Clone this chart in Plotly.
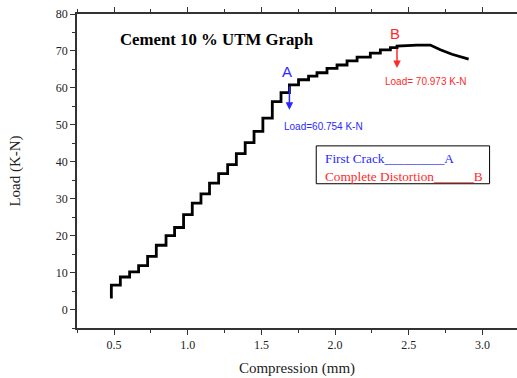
import plotly.graph_objects as go

# Staircase (loading) part: riser x positions and load level after each riser
step_x = [0.482, 0.482, 0.543, 0.606, 0.667, 0.728, 0.787, 0.853, 0.911, 0.972,
          1.031, 1.090, 1.148, 1.210, 1.271, 1.330, 1.390, 1.450, 1.510, 1.574,
          1.633, 1.690, 1.752, 1.820, 1.877, 1.945, 2.013, 2.081, 2.149, 2.239,
          2.307, 2.375, 2.420]
step_load = [3.0, 6.6, 8.8, 10.2, 11.9, 14.4, 17.4, 20.0, 22.2, 25.7,
             28.8, 31.3, 34.2, 36.8, 39.2, 42.2, 45.2, 48.2, 51.8, 56.3,
             58.7, 60.8, 62.2, 63.2, 64.1, 65.3, 66.2, 67.3, 68.3, 69.4,
             70.3, 70.9, 71.3]
# Smooth tail after the peak
tail_x = [2.556, 2.646, 2.714, 2.793, 2.906]
tail_load = [71.6, 71.6, 70.3, 69.1, 67.8]

point_A = (1.690, 60.754)
point_B = (2.420, 70.973)

# Build staircase path (horizontal then vertical)
xs, ys = [step_x[0]], [step_load[0]]
for i in range(1, len(step_x)):
    xs.append(step_x[i]); ys.append(step_load[i - 1])
    xs.append(step_x[i]); ys.append(step_load[i])
xs += tail_x
ys += tail_load

serif = "Liberation Serif, Times New Roman, serif"
sans = "Liberation Sans, Arial, sans-serif"
blue = "#2a2aff"
red = "#ff2a2a"

fig = go.Figure()
fig.add_trace(go.Scatter(x=xs, y=ys, mode="lines",
                         line=dict(color="black", width=2.8), showlegend=False,
                         hoverinfo="skip"))

ann = []
ann.append(dict(x=0.527, y=73.0, xref="x", yref="y", text="<b>Cement 10 % UTM Graph</b>",
                showarrow=False, xanchor="left", yanchor="middle",
                font=dict(family=serif, size=16.8, color="black")))
ann.append(dict(x=1.674, y=64.4, xref="x", yref="y", text="A", showarrow=False,
                font=dict(family=sans, size=15, color=blue)))
ann.append(dict(x=2.408, y=74.8, xref="x", yref="y", text="B", showarrow=False,
                font=dict(family=sans, size=15, color=red)))
ann.append(dict(x=1.64, y=49.5, xref="x", yref="y", text="Load=60.754 K-N", showarrow=False,
                xanchor="left", font=dict(family=sans, size=10, color=blue)))
ann.append(dict(x=2.325, y=61.7, xref="x", yref="y", text="Load= 70.973 K-N", showarrow=False,
                xanchor="left", font=dict(family=sans, size=10, color=red)))
# arrows
ann.append(dict(x=point_A[0], y=54.1, ax=point_A[0], ay=point_A[1], xref="x", yref="y",
                axref="x", ayref="y", text="", showarrow=True, arrowhead=2, arrowsize=1,
                arrowwidth=1.5, arrowcolor=blue))
ann.append(dict(x=point_B[0], y=65.4, ax=point_B[0], ay=point_B[1], xref="x", yref="y",
                axref="x", ayref="y", text="", showarrow=True, arrowhead=2, arrowsize=1,
                arrowwidth=1.5, arrowcolor=red))
# legend box text
ann.append(dict(x=1.916, y=41.0, xref="x", yref="y", text="First Crack_________A",
                showarrow=False, xanchor="left",
                font=dict(family=serif, size=13.3, color=blue)))
ann.append(dict(x=1.916, y=35.9, xref="x", yref="y", text="Complete Distortion______B",
                showarrow=False, xanchor="left",
                font=dict(family=serif, size=13.3, color=red)))

fig.update_layout(
    width=517, height=378,
    margin=dict(l=77, r=0, t=14, b=50),
    paper_bgcolor="white", plot_bgcolor="white",
    annotations=ann,
    shapes=[dict(type="rect", xref="x", yref="y", x0=1.872, x1=3.048, y0=34.05, y1=44.3,
                 line=dict(color="black", width=1))],
)
axis_common = dict(showgrid=False, zeroline=False, showline=True, linecolor="#333",
                   linewidth=1.5, ticks="outside", ticklen=5, tickwidth=1, tickcolor="#333",
                   tickfont=dict(family=serif, size=12, color="#222"))
fig.update_xaxes(range=[0.249, 3.234], tick0=0.5, dtick=0.5, tickformat=".1f",
                 mirror="allticks",
                 minor=dict(ticks="outside", ticklen=3, dtick=0.25, tick0=0.25, tickcolor="#333"),
                 title=dict(text="Compression (mm)", font=dict(family=serif, size=15, color="#222"),
                            standoff=11),
                 **axis_common)
fig.update_yaxes(range=[-5, 80], tick0=0, dtick=10,
                 minor=dict(ticks="outside", ticklen=3, dtick=5, tick0=5, tickcolor="#333"),
                 title=dict(text="Load (K-N)", font=dict(family=serif, size=15, color="#222"),
                            standoff=32),
                 **axis_common)

fig.write_html("out.html")
